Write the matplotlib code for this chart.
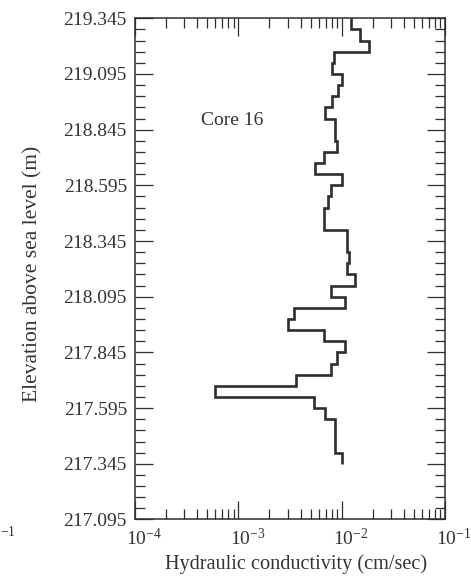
import numpy as np
import matplotlib
matplotlib.use('Agg')
import matplotlib.pyplot as plt
from matplotlib.ticker import FixedLocator, LogLocator, NullFormatter
from matplotlib.transforms import ScaledTranslation

plt.rcParams['font.family'] = ['Liberation Serif', 'DejaVu Serif']
plt.rcParams['mathtext.fontset'] = 'custom'
plt.rcParams['mathtext.rm'] = 'Liberation Serif'
plt.rcParams['mathtext.it'] = 'Liberation Serif:italic'

# sample boundaries (m above sea level), top to bottom, every 5 cm
elevation_edges = [219.345, 219.295, 219.245, 219.195, 219.145, 219.095, 219.045,
                   218.995, 218.945, 218.895, 218.845, 218.795, 218.745, 218.695,
                   218.645, 218.595, 218.545, 218.495, 218.445, 218.395, 218.345,
                   218.295, 218.245, 218.195, 218.145, 218.095, 218.045, 217.995,
                   217.945, 217.895, 217.845, 217.795, 217.745, 217.695, 217.645,
                   217.595, 217.545, 217.495, 217.445, 217.395, 217.345]

# hydraulic conductivity (cm/sec) of each 5 cm interval, top to bottom
conductivity = [1.22e-2, 1.50e-2, 1.85e-2, 8.5e-3, 8.1e-3, 1.01e-2, 9.3e-3, 8.1e-3,
                6.9e-3, 8.6e-3, 8.6e-3, 8.95e-3, 6.75e-3, 5.5e-3, 1.01e-2, 7.9e-3,
                7.4e-3, 6.8e-3, 6.8e-3, 1.13e-2, 1.13e-2, 1.18e-2, 1.12e-2, 1.35e-2,
                7.8e-3, 1.08e-2, 3.46e-3, 3.0e-3, 6.75e-3, 1.08e-2, 8.95e-3, 7.8e-3,
                3.6e-3, 5.9e-4, 5.4e-3, 6.9e-3, 8.6e-3, 8.6e-3, 8.6e-3, 1.0e-2]

ytick_labels = ['217.095', '217.345', '217.595', '217.845', '218.095',
                '218.345', '218.595', '218.845', '219.095', '219.345']
xticks = [1e-4, 1e-3, 1e-2, 1e-1]
xtick_labels = ['$10^{-4}$', '$10^{-3}$', '$10^{-2}$', '$10^{-1}$']

ink = '#2e2e2e'

fig = plt.figure(figsize=(4.71, 5.79), dpi=100)
ax = fig.add_axes([0.2866, 0.1028, 0.6582, 0.8656])

ax.stairs(conductivity[::-1], elevation_edges[::-1], orientation='horizontal',
          baseline=None, color=ink, linewidth=1.9)

ax.set_xscale('log')
ax.set_xlim(1e-4, 1e-1)
ax.set_ylim(217.095, 219.345)

ax.set_xticks(xticks)
ax.set_xticklabels(xtick_labels)
ax.xaxis.set_minor_locator(LogLocator(base=10, subs=np.arange(2, 10)))
ax.xaxis.set_minor_formatter(NullFormatter())

yt = [float(s) for s in ytick_labels]
ax.yaxis.set_major_locator(FixedLocator(yt))
ax.set_yticklabels(ytick_labels)
ax.yaxis.set_minor_locator(FixedLocator(np.arange(217.095, 219.346, 0.05)))

ax.tick_params(which='both', direction='in', top=True, right=True,
               color=ink, width=0.9, labelsize=14, labelcolor='#333333')
ax.tick_params(which='major', length=12.7)
ax.tick_params(which='minor', length=7.2)
ax.tick_params(axis='y', which='major', pad=5.8)
ax.tick_params(axis='x', which='major', pad=6)

for s in ax.spines.values():
    s.set_color(ink)
    s.set_linewidth(1.1)

# shift labels so the "10" sits on the tick
shift = ScaledTranslation(0.09, 0, fig.dpi_scale_trans)
for lab in ax.xaxis.get_majorticklabels():
    lab.set_transform(lab.get_transform() + shift)

ax.set_ylabel('Elevation above sea level (m)', fontsize=15.5, color='#333333')
ax.yaxis.set_label_coords(-0.297, 0.49)
ax.set_xlabel('Hydraulic conductivity (cm/sec)', fontsize=14.6, color='#333333',
              va='top')
ax.xaxis.set_label_coords(0.521, -0.069)

ax.text(0.212, 0.787, 'Core 16', transform=ax.transAxes, fontsize=14,
        color='#333333', va='baseline', ha='left')

# fragment of the neighbouring panel's tick label
fig.text(0.0, 1 - 533 / 579, '\u22121', fontsize=10, color='#333333',
         ha='left', va='center')

fig.savefig('out.png', dpi=100)
